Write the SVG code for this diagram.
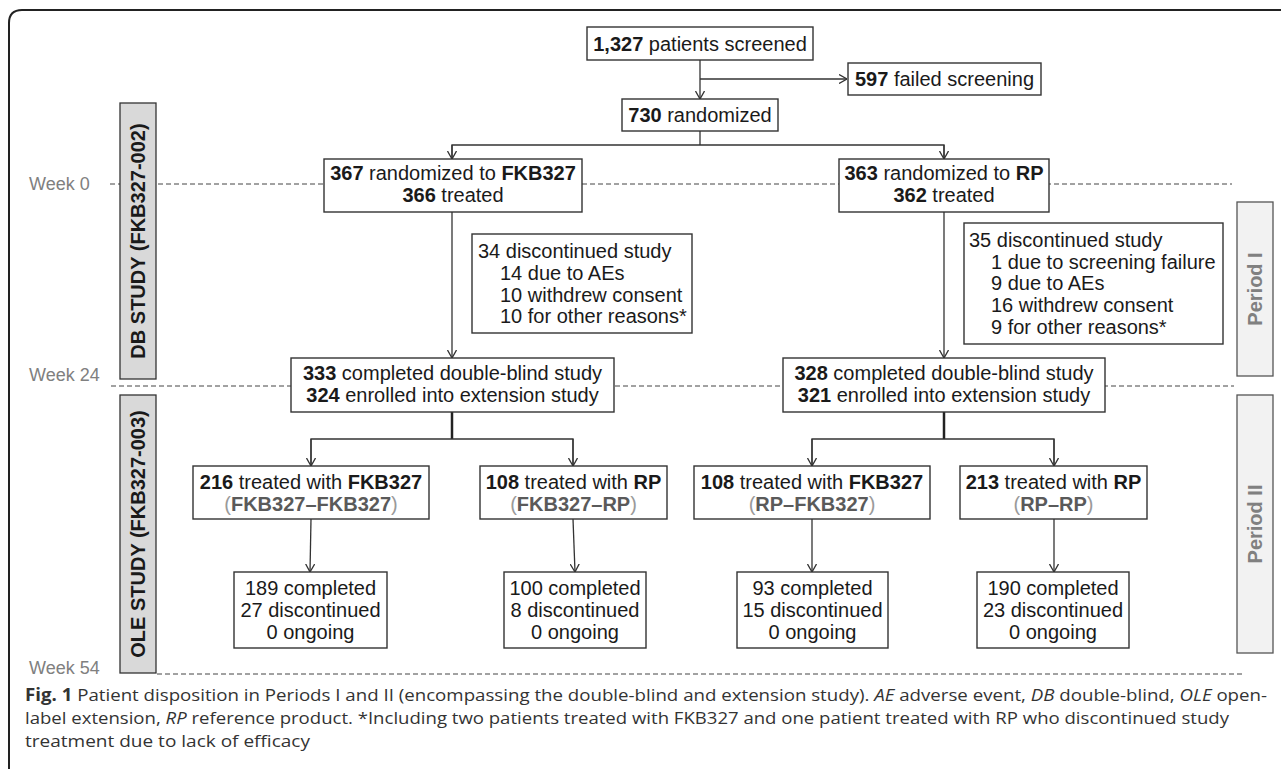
<svg xmlns="http://www.w3.org/2000/svg" width="1281" height="769" viewBox="0 0 1281 769">
<defs>
<style>
.box{fill:#fff;stroke:#333;stroke-width:1.4}
.t{font-family:"Liberation Sans",Arial,sans-serif;font-size:20px;fill:#1a1a1a}
.m{text-anchor:middle}
.b{font-weight:bold}
.g{fill:#5a5a5a;font-weight:bold}
.gp{fill:#9a9a9a;font-weight:normal}
.week{font-family:"Liberation Sans",Arial,sans-serif;font-size:18px;fill:#808080}
.dash{stroke:#444;stroke-width:1;stroke-dasharray:5 3;fill:none}
.conn{stroke:#333;stroke-width:1.3;fill:none}
.thick{stroke:#222;stroke-width:2.5;fill:none}
.bar{fill:#d9d9d9;stroke:#333;stroke-width:1.3}
.pbar{fill:#f2f2f2;stroke:#555;stroke-width:1.3}
.bt{font-family:"Liberation Sans",Arial,sans-serif;font-size:20px;font-weight:bold;fill:#1a1a1a;text-anchor:middle}
.pt{font-family:"Liberation Sans",Arial,sans-serif;font-size:20px;font-weight:bold;fill:#808080;text-anchor:middle}
.cap{font-family:"Open Sans","Noto Sans",sans-serif;font-size:17px;fill:#333}
</style>
<marker id="arr" viewBox="0 0 8 10" refX="8" refY="5" markerWidth="8" markerHeight="10" markerUnits="userSpaceOnUse" orient="auto">
<path d="M0,0.5 L8,5 L0,9.5" fill="none" stroke="#333" stroke-width="1.3"/>
</marker>
</defs>
<rect width="1281" height="769" fill="#fff"/>
<path d="M9,769 L9,23 Q9,10 22,10 L1281,10" fill="none" stroke="#222" stroke-width="2"/>

<g id="timeline">
<line class="dash" x1="110" y1="184" x2="1232" y2="184"/>
<line class="dash" x1="111" y1="386" x2="1234" y2="386"/>
<line class="dash" x1="157" y1="674" x2="1242" y2="674"/>
<text class="week" x="29" y="190">Week 0</text>
<text class="week" x="29" y="381">Week 24</text>
<text class="week" x="29" y="674">Week 54</text>
</g>

<g id="db-study">
<rect class="bar" x="120" y="103" width="36" height="276"/>
<text class="bt" transform="translate(138,241) rotate(-90)" x="0" y="7">DB STUDY (FKB327-002)</text>
</g>
<g id="ole-study">
<rect class="bar" x="120" y="395" width="36" height="278"/>
<text class="bt" transform="translate(138,534) rotate(-90)" x="0" y="7">OLE STUDY (FKB327-003)</text>
</g>
<g id="period1">
<rect class="pbar" x="1237" y="202" width="36" height="174"/>
<text class="pt" transform="translate(1255,289) rotate(-90)" x="0" y="7">Period I</text>
</g>
<g id="period2">
<rect class="pbar" x="1237" y="395" width="36" height="258"/>
<text class="pt" transform="translate(1255,524) rotate(-90)" x="0" y="7">Period II</text>
</g>

<g id="connectors">
<line class="conn" x1="700" y1="60" x2="700" y2="99" marker-end="url(#arr)"/>
<line class="conn" x1="700" y1="79" x2="847" y2="79" marker-end="url(#arr)"/>
<polyline class="conn" points="700,131 700,145"/>
<polyline class="conn" points="452,159 452,145 944,145 944,159"/>
<line class="conn" x1="452" y1="145" x2="452" y2="159" marker-end="url(#arr)"/>
<line class="conn" x1="944" y1="145" x2="944" y2="159" marker-end="url(#arr)"/>
<line class="conn" x1="452" y1="212" x2="452" y2="358" marker-end="url(#arr)"/>
<line class="conn" x1="944" y1="212" x2="944" y2="358" marker-end="url(#arr)"/>
<line class="thick" x1="452" y1="412" x2="452" y2="439"/>
<polyline class="conn" points="311,466 311,439 573,439 573,466"/>
<line class="conn" x1="311" y1="439" x2="311" y2="466" marker-end="url(#arr)"/>
<line class="conn" x1="573" y1="439" x2="573" y2="466" marker-end="url(#arr)"/>
<line class="thick" x1="944" y1="412" x2="944" y2="439"/>
<polyline class="conn" points="812,466 812,439 1054,439 1054,466"/>
<line class="conn" x1="812" y1="439" x2="812" y2="466" marker-end="url(#arr)"/>
<line class="conn" x1="1054" y1="439" x2="1054" y2="466" marker-end="url(#arr)"/>
<line class="conn" x1="311" y1="519" x2="310" y2="572" marker-end="url(#arr)"/>
<line class="conn" x1="573" y1="519" x2="575" y2="572" marker-end="url(#arr)"/>
<line class="conn" x1="812" y1="519" x2="812" y2="572" marker-end="url(#arr)"/>
<line class="conn" x1="1054" y1="519" x2="1054" y2="572" marker-end="url(#arr)"/>
</g>

<g id="screened">
<rect class="box" x="587" y="27" width="226" height="33"/>
<text class="t m" x="700" y="51"><tspan class="b">1,327</tspan> patients screened</text>
</g>
<g id="failed">
<rect class="box" x="848" y="63" width="193" height="32"/>
<text class="t m" x="944.5" y="86"><tspan class="b">597</tspan> failed screening</text>
</g>
<g id="randomized">
<rect class="box" x="622" y="99" width="156" height="32"/>
<text class="t m" x="700" y="122"><tspan class="b">730</tspan> randomized</text>
</g>
<g id="rand-fkb">
<rect class="box" x="324" y="159" width="258" height="53"/>
<text class="t m" x="453" y="180"><tspan class="b">367</tspan> randomized to <tspan class="b">FKB327</tspan></text>
<text class="t m" x="453" y="202"><tspan class="b">366</tspan> treated</text>
</g>
<g id="rand-rp">
<rect class="box" x="839" y="159" width="210" height="53"/>
<text class="t m" x="944" y="180"><tspan class="b">363</tspan> randomized to <tspan class="b">RP</tspan></text>
<text class="t m" x="944" y="202"><tspan class="b">362</tspan> treated</text>
</g>
<g id="disc-fkb">
<rect class="box" x="472" y="234" width="220" height="99"/>
<text class="t" x="478" y="258">34 discontinued study</text>
<text class="t" x="500" y="280">14 due to AEs</text>
<text class="t" x="500" y="302">10 withdrew consent</text>
<text class="t" x="500" y="323">10 for other reasons*</text>
</g>
<g id="disc-rp">
<rect class="box" x="964" y="223" width="259" height="121"/>
<text class="t" x="969" y="247">35 discontinued study</text>
<text class="t" x="991" y="269">1 due to screening failure</text>
<text class="t" x="991" y="290">9 due to AEs</text>
<text class="t" x="991" y="312">16 withdrew consent</text>
<text class="t" x="991" y="334">9 for other reasons*</text>
</g>
<g id="comp-fkb">
<rect class="box" x="291" y="358" width="323" height="54"/>
<text class="t m" x="452.5" y="380"><tspan class="b">333</tspan> completed double-blind study</text>
<text class="t m" x="452.5" y="402"><tspan class="b">324</tspan> enrolled into extension study</text>
</g>
<g id="comp-rp">
<rect class="box" x="783" y="358" width="322" height="54"/>
<text class="t m" x="944" y="380"><tspan class="b">328</tspan> completed double-blind study</text>
<text class="t m" x="944" y="402"><tspan class="b">321</tspan> enrolled into extension study</text>
</g>
<g id="fkb-fkb">
<rect class="box" x="193" y="466" width="236" height="53"/>
<text class="t m" x="311" y="489"><tspan class="b">216</tspan> treated with <tspan class="b">FKB327</tspan></text>
<text class="t m" x="311" y="511"><tspan class="gp">(</tspan><tspan class="g">FKB327–FKB327</tspan><tspan class="gp">)</tspan></text>
</g>
<g id="fkb-rp">
<rect class="box" x="480" y="466" width="187" height="53"/>
<text class="t m" x="573.5" y="489"><tspan class="b">108</tspan> treated with <tspan class="b">RP</tspan></text>
<text class="t m" x="573.5" y="511"><tspan class="gp">(</tspan><tspan class="g">FKB327–RP</tspan><tspan class="gp">)</tspan></text>
</g>
<g id="rp-fkb">
<rect class="box" x="694" y="466" width="236" height="53"/>
<text class="t m" x="812" y="489"><tspan class="b">108</tspan> treated with <tspan class="b">FKB327</tspan></text>
<text class="t m" x="812" y="511"><tspan class="gp">(</tspan><tspan class="g">RP–FKB327</tspan><tspan class="gp">)</tspan></text>
</g>
<g id="rp-rp">
<rect class="box" x="960" y="466" width="187" height="53"/>
<text class="t m" x="1053.5" y="489"><tspan class="b">213</tspan> treated with <tspan class="b">RP</tspan></text>
<text class="t m" x="1053.5" y="511"><tspan class="gp">(</tspan><tspan class="g">RP–RP</tspan><tspan class="gp">)</tspan></text>
</g>
<g id="out-fkb-fkb">
<rect class="box" x="234" y="572" width="153" height="76"/>
<text class="t m" x="310.5" y="595">189 completed</text>
<text class="t m" x="310.5" y="617">27 discontinued</text>
<text class="t m" x="310.5" y="639">0 ongoing</text>
</g>
<g id="out-fkb-rp">
<rect class="box" x="504" y="572" width="142" height="76"/>
<text class="t m" x="575" y="595">100 completed</text>
<text class="t m" x="575" y="617">8 discontinued</text>
<text class="t m" x="575" y="639">0 ongoing</text>
</g>
<g id="out-rp-fkb">
<rect class="box" x="737" y="572" width="151" height="76"/>
<text class="t m" x="812.5" y="595">93 completed</text>
<text class="t m" x="812.5" y="617">15 discontinued</text>
<text class="t m" x="812.5" y="639">0 ongoing</text>
</g>
<g id="out-rp-rp">
<rect class="box" x="977" y="572" width="152" height="76"/>
<text class="t m" x="1053" y="595">190 completed</text>
<text class="t m" x="1053" y="617">23 discontinued</text>
<text class="t m" x="1053" y="639">0 ongoing</text>
</g>

<g id="caption">
<text class="cap" x="25" y="701" textLength="1242" lengthAdjust="spacingAndGlyphs"><tspan font-weight="bold">Fig. 1</tspan> Patient disposition in Periods I and II (encompassing the double-blind and extension study). <tspan font-style="italic">AE</tspan> adverse event, <tspan font-style="italic">DB</tspan> double-blind, <tspan font-style="italic">OLE</tspan> open-</text>
<text class="cap" x="25" y="724" textLength="1204" lengthAdjust="spacingAndGlyphs">label extension, <tspan font-style="italic">RP</tspan> reference product. *Including two patients treated with FKB327 and one patient treated with RP who discontinued study</text>
<text class="cap" x="25" y="747" textLength="285" lengthAdjust="spacingAndGlyphs">treatment due to lack of efficacy</text>
</g>
</svg>
